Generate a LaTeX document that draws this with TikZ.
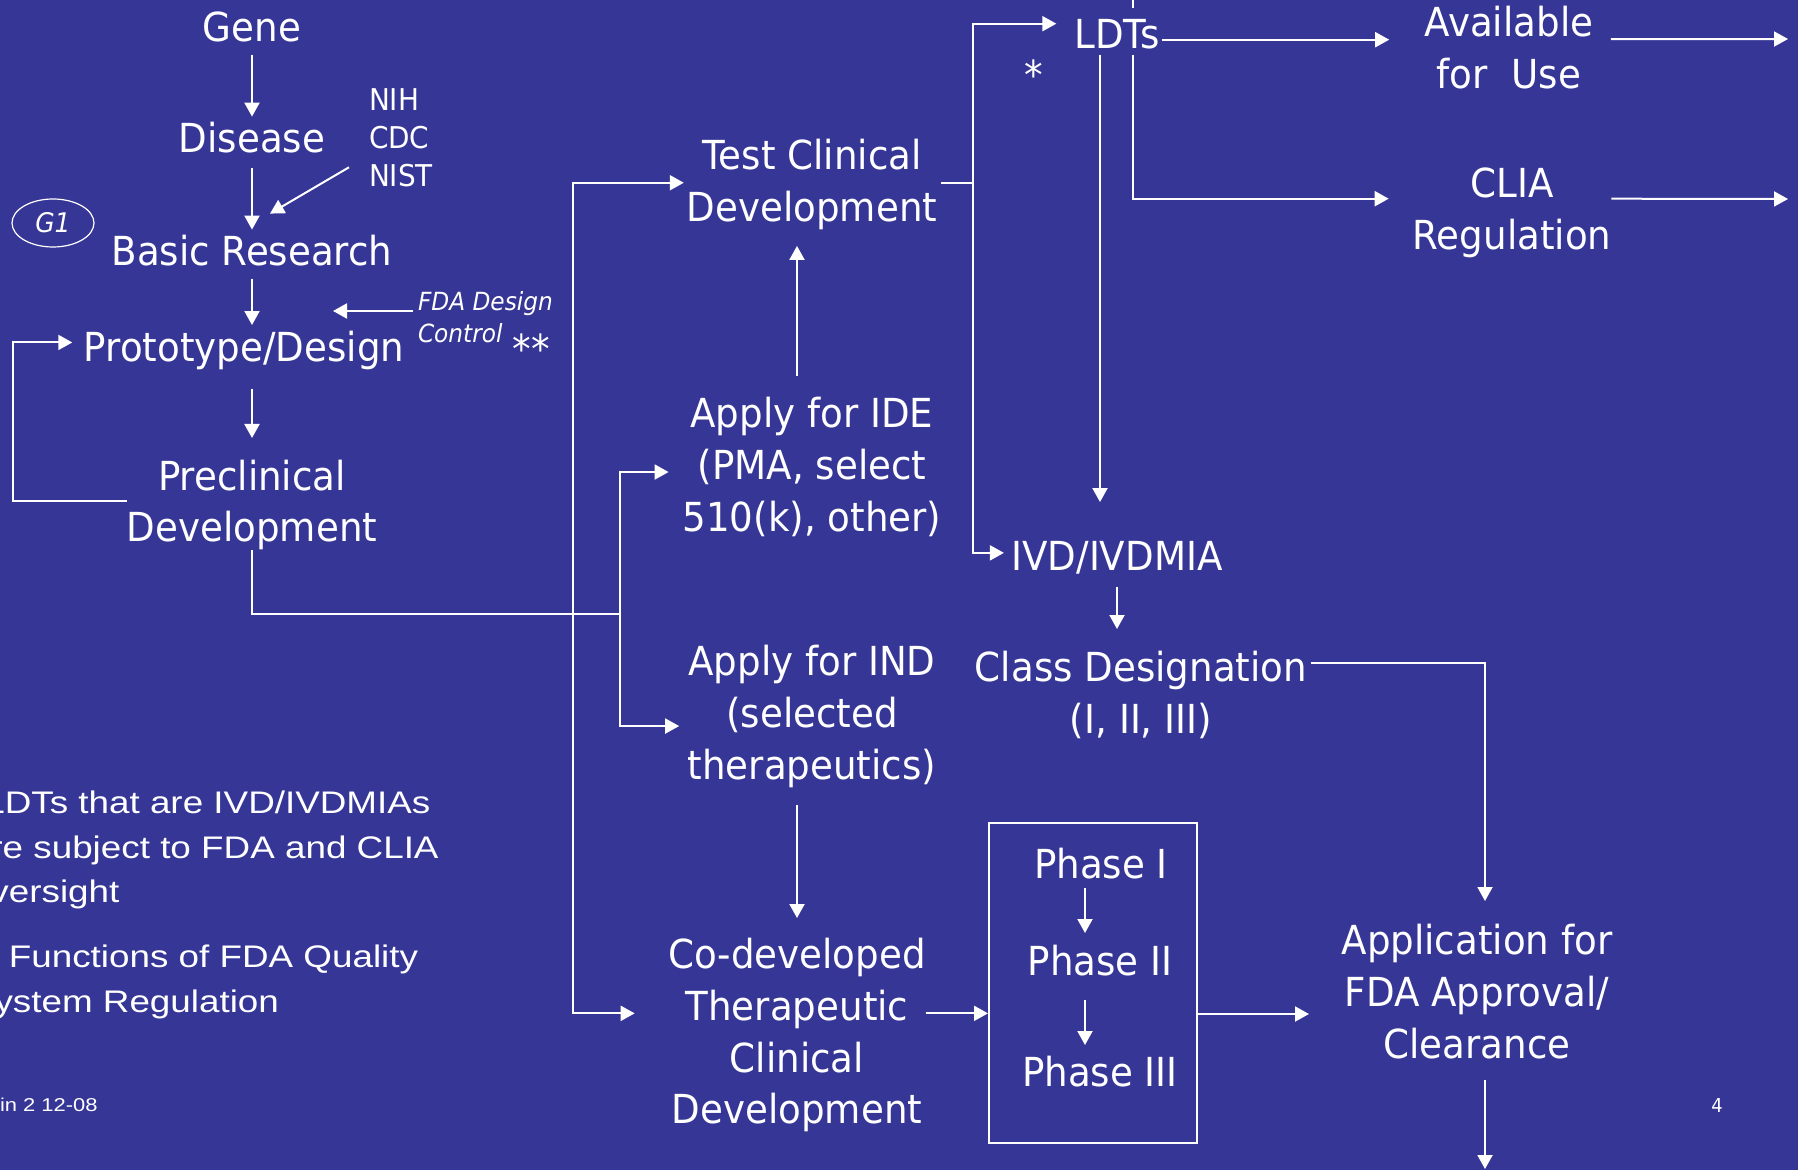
\documentclass[tikz,border=0pt]{standalone}
\usepackage{fontspec}
\setmainfont{DejaVu Sans}[FakeStretch=0.93]
\newfontfamily\notefont{Liberation Sans}[FakeStretch=1.18]
\usetikzlibrary{arrows.meta,shapes.geometric}
\definecolor{slideblue}{RGB}{54,54,150}

\begin{document}
\begin{tikzpicture}[x=0.5pt, y=-0.5pt, white, line width=1pt,
    stage/.style={inner sep=0pt, outer sep=0pt, align=center, font=\fontsize{20}{25.8}\selectfont},
    small/.style={inner sep=0pt, outer sep=0pt, align=left, font=\fontsize{15}{19}\selectfont},
    note/.style={inner sep=0pt, outer sep=0pt, align=left, font=\notefont\fontsize{15.6}{22.2}\selectfont},
    arr/.style={-{Triangle[length=7pt,width=7.5pt]}}]
    % Slide background
    \useasboundingbox (0,0) rectangle (1798,1170);
    \fill[slideblue] (0,0) rectangle (1798,1170);
    \clip (0,0) rectangle (1798,1170);

    % Define the nodes of the research column
    \node[stage, anchor=base] (gene) at (252,42) {Gene};
    \node[stage, anchor=base] (disease) at (252,153) {Disease};
    \node[small, anchor=north west] (agencies) at (369,89) {NIH\\CDC\\NIST};
    \node[ellipse, draw, line width=0.6pt, minimum width=41pt, minimum height=24pt, inner sep=0pt, font=\fontsize{13.5}{16}\selectfont\itshape] (g1) at (53,223) {G1};
    \node[stage, anchor=base] (basic) at (252,266) {Basic Research};
    \node[stage, anchor=base] (proto) at (244,362) {Prototype/Design};
    \node[small, anchor=north west, font=\fontsize{12.5}{16}\selectfont\itshape] (fdactl) at (418,292) {FDA Design\\Control};
    \node[stage, anchor=base] (stars) at (531,364) {**};
    \node[stage, anchor=north] (precl) at (252,460) {Preclinical\\Development};

    % Define the nodes of the clinical column
    \node[stage, anchor=north] (tcd) at (812,139.6) {Test Clinical\\Development};
    \node[stage, anchor=north] (ide) at (812,397.6) {Apply for IDE\\(PMA, select\\510(k), other)};
    \node[stage, anchor=north] (ind) at (812,645.6) {Apply for IND\\(selected\\therapeutics)};
    \node[stage, anchor=north] (codev) at (797,938.6) {Co-developed\\Therapeutic\\Clinical\\Development};

    % Define the nodes of the regulatory side
    \node[stage, anchor=base] (ldts) at (1117,49) {LDTs};
    \node[stage, anchor=base] (star) at (1034,90) {*};
    \node[stage, anchor=north] (avail) at (1509,6.6) {Available\\for\ \ Use};
    \node[stage, anchor=north] (clia) at (1512,167.8) {CLIA\\Regulation};
    \node[stage, anchor=base] (ivd) at (1117,570) {IVD/IVDMIA};
    \node[stage, anchor=north] (classd) at (1141,651.6) {Class Designation\\(I, II, III)};
    \node[draw, minimum width=104pt, minimum height=160pt, inner sep=0pt] (phases) at (1093,983) {};
    \node[stage, anchor=base] (ph1) at (1101,878) {Phase I};
    \node[stage, anchor=base] (ph2) at (1100,975) {Phase II};
    \node[stage, anchor=base] (ph3) at (1100,1086) {Phase III};
    \node[stage, anchor=north] (appl) at (1477,924.6) {Application for\\FDA Approval/\\Clearance};

    % Footnotes and slide number
    \node[note, anchor=north west] (note1) at (-30,791) {*LDTs that are IVD/IVDMIAs\\are subject to FDA and CLIA\\oversight};
    \node[note, anchor=north west] (note2) at (-30,945) {** Functions of FDA Quality\\System Regulation};
    \node[note, anchor=base west, font=\notefont\fontsize{9.3}{11}\selectfont] (footer) at (0,1111) {in 2 12-08};
    \node[stage, anchor=base, font=\fontsize{9.6}{11}\selectfont] (pageno) at (1717,1112) {4};

    % Free ends and junctions
    \coordinate (hub) at (620,614);
    \coordinate (trunk) at (573,614);
    \coordinate (outA) at (1788,39);
    \coordinate (outC) at (1788,199);
    \coordinate (outB) at (1485,1169);

    % Draw edges of the research column
    \draw[arr, shorten <=6pt, shorten >=3pt] (gene) -- (disease);
    \draw[arr, shorten <=7pt, shorten >=3pt] (disease) -- (basic);
    \draw[arr] ([shift={(-20,-20)}]agencies.south west) -- ([shift={(18,-22)}]basic.north);
    \draw[arr, shorten <=6pt, shorten >=3.3pt] (basic.south) -- (basic.south |- proto.north);
    \draw[arr] ([shift={(-5,19)}]fdactl.north west) -- ++(-80,0);
    \draw[arr, shorten <=9.3pt, shorten >=11pt] (proto.south -| precl.north) -- (precl.north);
    \draw[arr, shorten >=5.75pt] ([yshift=2pt]precl.west) -- ++(-114,0) |- ([yshift=4.25pt]proto.west);

    % Draw edges into the clinical column
    \draw (precl.south) |- (hub);
    \draw[arr, shorten >=7pt] (hub) |- ([yshift=-2.5pt]ide.west);
    \draw[arr, shorten >=4.3pt] (hub) |- ([yshift=-4.75pt]ind.west);
    \draw[arr, shorten >=1.5pt] (trunk) |- ([yshift=1pt]tcd.west);
    \draw[arr, shorten >=16.8pt] (trunk) |- ([yshift=11pt]codev.west);
    \draw[arr, shorten <=10.8pt, shorten >=8pt] ([xshift=-7.5pt]ide.north) -- ([xshift=-7.5pt]tcd.south);
    \draw[arr, shorten <=8.7pt, shorten >=10.3pt] ([xshift=-7.5pt]ind.south) -- (codev.north);
    \draw[arr] ([yshift=11pt]codev.east) -- ([yshift=11pt]codev.east -| phases.west);

    % Draw edges of the regulatory side
    \draw[shorten <=2pt] ([yshift=1pt]tcd.east) -- ++(36,0) coordinate (tsplit);
    \draw[arr, shorten >=9pt] (tsplit) |- ([yshift=5.5pt]ldts.west);
    \draw[arr, shorten >=3.75pt] (tsplit) |- ([yshift=2.2pt]ivd.west);
    \draw[arr, shorten <=2.5pt, shorten >=19.4pt] ([xshift=-8.5pt]ldts.south) -- ([xshift=-8.5pt]ivd.north);
    \draw ([xshift=8pt,yshift=6pt]ldts.north) -- ([xshift=8pt,yshift=12pt]ldts.north);
    \draw[arr, shorten <=2.5pt, shorten >=12pt] ([xshift=8pt]ldts.south) |- ([yshift=6.95pt]clia.west);
    \draw[arr, shorten <=1pt, shorten >=17.8pt] ([yshift=-2.5pt]ldts.east) -- ([yshift=-2.5pt]ldts.east -| avail.west);
    \draw[arr, shorten <=8.85pt] ([yshift=4.3pt]avail.east) -- (outA);
    \draw[arr] ([yshift=6.95pt]clia.east) -- (outC);
    \draw[arr, shorten <=6.5pt, shorten >=11.3pt] (ivd.south) -- (ivd.south |- classd.north);
    \draw[arr, shorten <=2pt, shorten >=11.8pt] ([yshift=-5.5pt]classd.north east) -| ([xshift=4pt]appl.north);
    \draw[arr, shorten <=4.5pt, shorten >=5.8pt] ([xshift=-8pt]ph1.south) -- ([xshift=-8pt]ph1.south |- ph2.north);
    \draw[arr, shorten <=12pt, shorten >=5.3pt] ([xshift=-8pt]ph1.south |- ph2.south) -- ([xshift=-8pt]ph1.south |- ph3.north);
    \draw[arr, shorten >=16.3pt] ([yshift=-15.5pt]phases.east) -- ([yshift=-15.5pt]phases.east -| appl.west);
    \draw[arr, shorten <=10.4pt] ([xshift=4pt]appl.south) -- (outB);
\end{tikzpicture}
\end{document}
